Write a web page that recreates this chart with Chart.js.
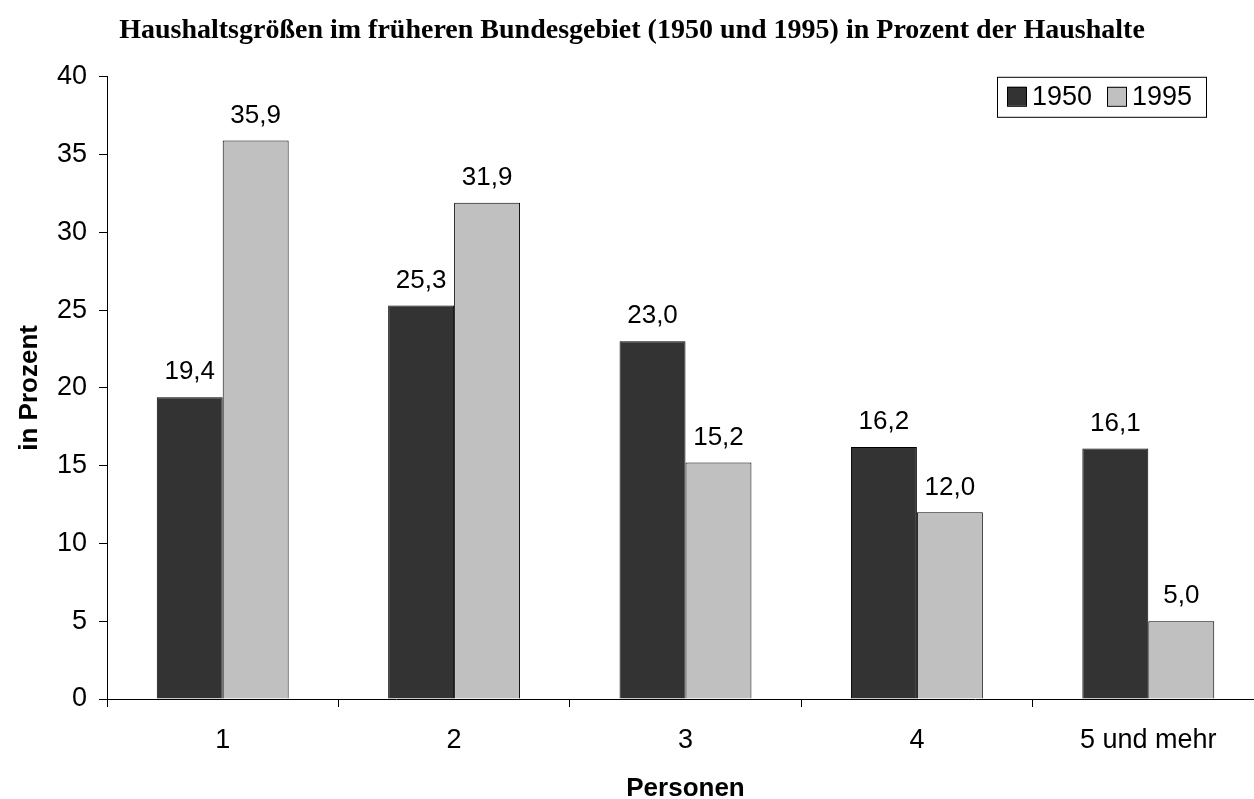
<!DOCTYPE html>
<html lang="de">

<head>
  <meta charset="UTF-8">
  <title>Haushaltsgrößen</title>
  <style>
    html, body { margin: 0; padding: 0; background: #fff; overflow: hidden; }
    .grafica { position: relative; width: 1280px; height: 799px; }
  </style>
</head>

<body>

  <div class="grafica">
    <canvas id="myChart"></canvas>
  </div>

  <script src="https://cdn.jsdelivr.net/npm/chart.js"></script>

  <script>
    // Daten
    const kategorien = ['1', '2', '3', '4', '5 und mehr']
    const werte1950 = [19.4, 25.3, 23.0, 16.2, 16.1]
    const werte1995 = [35.9, 31.9, 15.2, 12.0, 5.0]
    const jahre = ['1950', '1995']

    const schrift = 'Arial, "Liberation Sans", sans-serif'

    // Werte über den Balken, mit Komma
    const wertBeschriftung = {
      id: 'wertBeschriftung',
      afterDatasetsDraw(chart) {
        const ctx = chart.ctx
        ctx.save()
        ctx.font = '26px ' + schrift
        ctx.fillStyle = '#000'
        ctx.textAlign = 'center'
        ctx.textBaseline = 'middle'
        chart.data.datasets.forEach((ds, i) => {
          chart.getDatasetMeta(i).data.forEach((bar, j) => {
            const txt = ds.data[j].toFixed(1).replace('.', ',')
            ctx.fillText(txt, bar.x, bar.y - 25)
          })
        })
        ctx.restore()
      }
    }

    // Legende im Diagramm oben rechts mit Rahmen
    const legendeBox = {
      id: 'legendeBox',
      afterDraw(chart) {
        const ctx = chart.ctx
        const area = chart.chartArea
        const x0 = area.right - 267
        const y0 = area.top
        const w = 209
        const h = 40
        ctx.save()
        ctx.fillStyle = '#fff'
        ctx.fillRect(x0, y0, w, h)
        ctx.strokeStyle = '#000'
        ctx.lineWidth = 1
        ctx.strokeRect(x0 + 0.5, y0 + 0.5, w, h)
        ctx.font = '27px ' + schrift
        ctx.textBaseline = 'middle'
        let x = x0 + 10
        chart.data.datasets.forEach((ds) => {
          ctx.fillStyle = ds.backgroundColor
          ctx.fillRect(x, y0 + 10, 19, 19)
          ctx.strokeStyle = '#000'
          ctx.strokeRect(x + 0.5, y0 + 10.5, 19, 19)
          ctx.fillStyle = '#000'
          ctx.fillText(ds.label, x + 25, y0 + h / 2 + 1)
          x += 100
        })
        ctx.restore()
      }
    }

    const config = {
      type: 'bar',
      data: {
        labels: kategorien,
        datasets: [
          {
            label: jahre[0],
            data: werte1950,
            backgroundColor: '#333333',
            borderColor: '#000',
            borderWidth: 1
          },
          {
            label: jahre[1],
            data: werte1995,
            backgroundColor: '#c0c0c0',
            borderColor: '#000',
            borderWidth: 1
          }
        ]
      },
      options: {
        responsive: true,
        maintainAspectRatio: false,
        animation: false,
        layout: { padding: { top: 0, right: 16, bottom: 0, left: 0 } },
        datasets: {
          bar: { categoryPercentage: 0.57, barPercentage: 1.0 }
        },
        plugins: {
          legend: { display: false },
          tooltip: { enabled: false },
          title: {
            display: true,
            text: 'Haushaltsgrößen im früheren Bundesgebiet (1950 und 1995) in Prozent der Haushalte',
            color: '#000',
            font: { family: '"Times New Roman", "Liberation Serif", serif', size: 28, weight: 'bold', lineHeight: 1.1 },
            padding: { top: 15, bottom: 31 }
          }
        },
        scales: {
          x: {
            offset: true,
            border: { display: true, color: '#000', width: 1 },
            grid: { offset: true, drawOnChartArea: false, drawTicks: true, tickLength: 8, color: '#000' },
            ticks: { color: '#000', font: { family: schrift, size: 27 }, padding: 17 },
            title: {
              display: true,
              text: 'Personen',
              color: '#000',
              font: { family: schrift, size: 26, weight: 'bold', lineHeight: 0.8 },
              padding: { top: 22, bottom: 0 }
            },
            afterFit: (scale) => { scale.height = 100 }
          },
          y: {
            min: 0,
            max: 40,
            border: { display: true, color: '#000', width: 1 },
            grid: { drawOnChartArea: false, drawTicks: true, tickLength: 8, color: '#000' },
            ticks: { stepSize: 5, color: '#000', font: { family: schrift, size: 27 }, padding: 12 },
            title: {
              display: true,
              text: 'in Prozent',
              color: '#000',
              font: { family: schrift, size: 26, weight: 'bold' },
              padding: { top: 14, bottom: 0 }
            },
            afterFit: (scale) => { scale.width = 107 }
          }
        }
      },
      plugins: [wertBeschriftung, legendeBox]
    }

    new Chart(document.getElementById('myChart'), config)
  </script>
</body>

</html>
